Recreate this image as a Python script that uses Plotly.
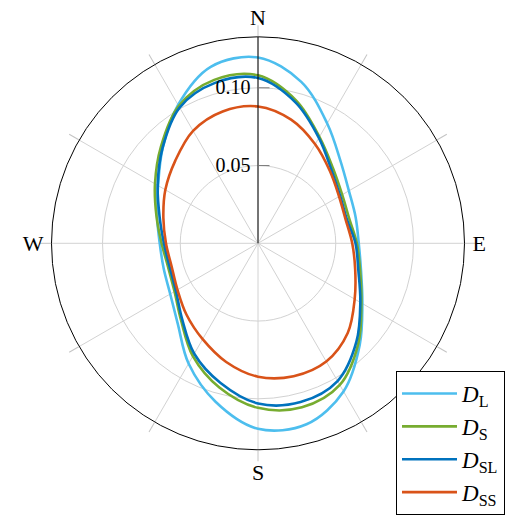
import plotly.graph_objects as go

# compass bearing (deg, clockwise from North)
bearing = [0, 15, 30, 45, 60, 75, 90, 105, 120, 135, 150, 165,
           180, 195, 210, 225, 240, 255, 270, 285, 300, 315, 330, 345]

D_L = [0.1195, 0.1075, 0.0890, 0.0750, 0.0675, 0.0650, 0.0648, 0.0686, 0.0775, 0.0925, 0.1100, 0.1205,
       0.1193, 0.1055, 0.0893, 0.0730, 0.0652, 0.0628, 0.0632, 0.0672, 0.0742, 0.0867, 0.1028, 0.1175]
D_S = [0.1080, 0.0950, 0.0790, 0.0682, 0.0625, 0.0608, 0.0636, 0.0680, 0.0768, 0.0912, 0.1052, 0.1092,
       0.1058, 0.0960, 0.0838, 0.0700, 0.0620, 0.0598, 0.0620, 0.0676, 0.0765, 0.0882, 0.1020, 0.1088]
D_SL = [0.1063, 0.0937, 0.0783, 0.0668, 0.0610, 0.0592, 0.0627, 0.0668, 0.0760, 0.0895, 0.1023, 0.1057,
        0.1030, 0.0930, 0.0820, 0.0690, 0.0610, 0.0588, 0.0605, 0.0655, 0.0745, 0.0868, 0.1008, 0.1068]
D_SS = [0.0880, 0.0823, 0.0735, 0.0655, 0.0602, 0.0584, 0.0606, 0.0647, 0.0718, 0.0816, 0.0878, 0.0885,
        0.0858, 0.0790, 0.0712, 0.0650, 0.0598, 0.0575, 0.0592, 0.0630, 0.0688, 0.0752, 0.0835, 0.0878]

series = [
    ("<i>D</i><sub>L</sub>", D_L, "#4DBEEE"),
    ("<i>D</i><sub>S</sub>", D_S, "#77AC30"),
    ("<i>D</i><sub>SL</sub>", D_SL, "#0072BD"),
    ("<i>D</i><sub>SS</sub>", D_SS, "#D95319"),
]

r_max = 0.1328
r_ticks = [0.05, 0.10]
r_ticktext = ["0.05", "0.10"]
grid_angles = list(range(0, 360, 30))
compass_vals = [0, 90, 180, 270]
compass_text = ["N", "E", "S", "W"]

FONT = "Liberation Serif, DejaVu Serif, serif"

fig = go.Figure()
for name, vals, col in series:
    fig.add_trace(go.Scatterpolar(
        theta=bearing + [bearing[0] + 360],
        r=vals + [vals[0]],
        mode="lines",
        name=name,
        line=dict(color=col, width=2.6, shape="spline", smoothing=1.0),
        subplot="polar",
    ))

# invisible trace so the overlay subplot carrying the compass labels is drawn
fig.add_trace(go.Scatterpolar(
    theta=[0], r=[0], mode="markers", marker=dict(opacity=0),
    showlegend=False, hoverinfo="skip", subplot="polar2",
))

# page body adds an 8px offset; positions below are in figure pixels
W, H = 513, 515
OFF = 8
cx, cy, R = 258.0 - OFF, 243.3 - OFF, 206.5
dom = dict(x=[(cx - R) / W, (cx + R) / W],
           y=[(H - cy - R) / H, (H - cy + R) / H])

fig.update_layout(
    width=W, height=H,
    margin=dict(l=0, r=0, t=0, b=0, autoexpand=False),
    paper_bgcolor="white",
    font=dict(family=FONT, color="black"),
    polar=dict(
        domain=dom,
        bgcolor="white",
        angularaxis=dict(
            rotation=90, direction="clockwise",
            tickmode="array", tickvals=grid_angles,
            showticklabels=False,
            ticks="outside", ticklen=11, tickcolor="#c4c4c4", tickwidth=1,
            showline=True, linecolor="black", linewidth=1,
            gridcolor="#d2d2d2", gridwidth=1,
        ),
        radialaxis=dict(
            range=[0, r_max], angle=90,
            tickmode="array", tickvals=r_ticks, ticktext=r_ticktext,
            ticks="inside", ticklen=11, tickcolor="#7a7a7a",
            tickangle=90,
            showline=True, linecolor="black", linewidth=1,
            gridcolor="#d2d2d2", gridwidth=1,
            side="counterclockwise",
            tickfont=dict(family=FONT, size=20, color="black"),
        ),
    ),
    polar2=dict(
        domain=dom,
        bgcolor="rgba(0,0,0,0)",
        angularaxis=dict(
            rotation=90, direction="clockwise",
            tickmode="array", tickvals=compass_vals, ticktext=compass_text,
            ticks="outside", ticklen=3, tickcolor="rgba(0,0,0,0)",
            showline=False, showgrid=False,
            tickfont=dict(family=FONT, size=22, color="black"),
        ),
        radialaxis=dict(visible=False, range=[0, r_max]),
    ),
    legend=dict(
        x=(396 - OFF) / W, y=1 - (371 - OFF) / H, xanchor="left", yanchor="top",
        bgcolor="white", bordercolor="black", borderwidth=1,
        font=dict(family=FONT, size=23, color="black"),
        tracegroupgap=0, itemwidth=55,
    ),
    showlegend=True,
)

fig.write_html("out.html")
